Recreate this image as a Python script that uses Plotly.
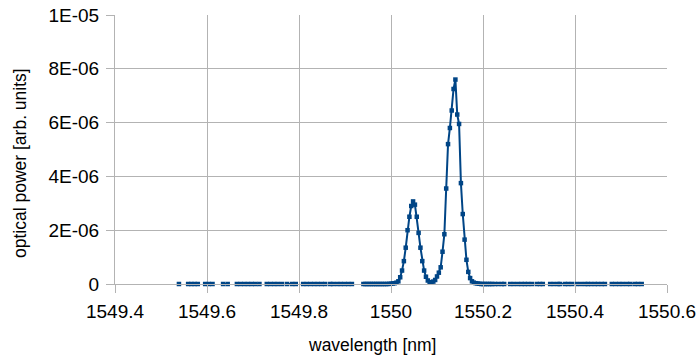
import plotly.graph_objects as go

# baseline groups (left side), nm; separate groups are not joined by the line
left_groups = [
    [1549.539],
    [1549.559, 1549.566, 1549.573, 1549.580],
    [1549.596, 1549.604, 1549.612],
    [1549.635, 1549.645],
    [1549.665, 1549.673, 1549.681, 1549.689, 1549.697],
    [1549.705, 1549.714],
    [1549.730, 1549.738, 1549.746, 1549.754, 1549.763],
    [1549.774, 1549.785],
    [1549.793],
    [1549.809, 1549.817, 1549.825, 1549.833, 1549.841, 1549.849, 1549.857],
    [1549.868, 1549.874],
    [1549.883, 1549.891, 1549.899, 1549.907, 1549.915],
]

# dense region around the two peaks, nm
core_x = [1549.940, 1549.944, 1549.948, 1549.952, 1549.956, 1549.960,
          1549.964, 1549.968, 1549.972, 1549.976, 1549.980, 1549.984,
          1549.988, 1549.992, 1549.996, 1550.000, 1550.004, 1550.008,
          1550.012, 1550.016, 1550.020, 1550.024, 1550.028, 1550.032,
          1550.036, 1550.040, 1550.044, 1550.048, 1550.052, 1550.056,
          1550.060, 1550.064, 1550.068, 1550.072, 1550.076, 1550.080,
          1550.084, 1550.088, 1550.092, 1550.096, 1550.100, 1550.104,
          1550.108, 1550.112, 1550.116, 1550.120, 1550.124, 1550.128,
          1550.132, 1550.136, 1550.140, 1550.144, 1550.148, 1550.152,
          1550.156, 1550.160, 1550.164, 1550.168, 1550.172, 1550.176,
          1550.180, 1550.184, 1550.188, 1550.192, 1550.196, 1550.200,
          1550.204, 1550.208, 1550.212, 1550.216, 1550.220, 1550.226,
          1550.233, 1550.241]
core_y = [0, 0, 0, 0, 0, 0,
          0, 0, 0, 0, 0, 0,
          0, 0, 0.005e-6, 0.01e-6, 0.02e-6, 0.03e-6,
          0.05e-6, 0.10e-6, 0.25e-6, 0.50e-6, 0.85e-6, 1.35e-6,
          2.00e-6, 2.50e-6, 2.90e-6, 3.07e-6, 2.95e-6, 2.50e-6,
          1.90e-6, 1.35e-6, 0.85e-6, 0.50e-6, 0.27e-6, 0.13e-6,
          0.07e-6, 0.06e-6, 0.09e-6, 0.15e-6, 0.28e-6, 0.42e-6,
          0.62e-6, 1.20e-6, 1.85e-6, 3.55e-6, 5.20e-6, 5.80e-6,
          6.45e-6, 7.25e-6, 7.60e-6, 6.30e-6, 5.95e-6, 3.75e-6,
          2.60e-6, 1.65e-6, 0.90e-6, 0.45e-6, 0.22e-6, 0.10e-6,
          0.05e-6, 0.03e-6, 0.02e-6, 0.01e-6, 0, 0,
          0, 0, 0, 0, 0, 0,
          0, 0]

# baseline groups (right side), nm
right_groups = [
    [1550.246],
    [1550.259, 1550.267],
    [1550.276, 1550.284, 1550.291],
    [1550.298, 1550.306],
    [1550.317, 1550.324, 1550.330],
    [1550.346, 1550.354, 1550.363],
    [1550.367, 1550.378],
    [1550.385, 1550.393],
    [1550.404, 1550.413, 1550.422],
    [1550.428, 1550.435, 1550.443],
    [1550.450, 1550.458, 1550.465],
    [1550.480, 1550.488, 1550.496, 1550.504, 1550.513],
    [1550.520, 1550.530],
    [1550.537, 1550.545],
]

y_tickvals = [0, 2e-6, 4e-6, 6e-6, 8e-6, 1e-5]
y_ticktext = ["0", "2E-06", "4E-06", "6E-06", "8E-06", "1E-05"]
x_tickvals = [1549.4, 1549.6, 1549.8, 1550.0, 1550.2, 1550.4, 1550.6]
x_ticktext = ["1549.4", "1549.6", "1549.8", "1550", "1550.2", "1550.4", "1550.6"]

x, y = [], []
for g in left_groups:
    x += g + [None]
    y += [0] * len(g) + [None]
x += core_x + [None]
y += core_y + [None]
for g in right_groups:
    x += g + [None]
    y += [0] * len(g) + [None]

color = "#004586"
grid = "#b3b3b3"
W, H = 700, 358
L, R, T, B = 115, 33, 15, 74

fig = go.Figure()
fig.add_trace(go.Scatter(
    x=x, y=y, mode="lines+markers", connectgaps=False, cliponaxis=False,
    line=dict(color=color, width=2),
    marker=dict(symbol="square", size=4.5, color=color),
    showlegend=False,
))

font = dict(family="Liberation Sans, Arial, sans-serif", size=19, color="#000000")

fig.update_layout(
    width=W, height=H,
    margin=dict(l=L, r=R, t=T, b=B, autoexpand=False),
    paper_bgcolor="white", plot_bgcolor="white",
    font=font,
)
fig.update_xaxes(
    range=[1549.4, 1550.6], tickvals=x_tickvals, ticktext=x_ticktext,
    showgrid=True, gridcolor=grid, gridwidth=1,
    showline=True, linecolor=grid, linewidth=1,
    ticks="outside", ticklen=8, tickcolor=grid,
    zeroline=False, automargin=False, ticklabelstandoff=2,
    tickfont=dict(size=19),
)
fig.update_yaxes(
    range=[0, 1e-5], tickvals=y_tickvals, ticktext=y_ticktext,
    showgrid=True, gridcolor=grid, gridwidth=1,
    showline=True, linecolor=grid, linewidth=1,
    ticks="outside", ticklen=8, tickcolor=grid,
    zeroline=False, automargin=False, ticklabelstandoff=3,
    tickfont=dict(size=19),
)

# axis titles placed as paper annotations (pixel positions converted to paper fractions)
pw, ph = W - L - R, H - T - B
fig.add_annotation(
    text="wavelength [nm]", xref="paper", yref="paper",
    x=(372 - L) / pw, y=(H - B - 345) / ph, showarrow=False,
    xanchor="center", yanchor="middle", font=dict(size=17.5),
)
fig.add_annotation(
    text="optical power [arb. units]", xref="paper", yref="paper",
    x=(20 - L) / pw, y=(H - B - 163) / ph, showarrow=False, textangle=-90,
    xanchor="center", yanchor="middle", font=dict(size=17.5),
)

fig.write_html("out.html")
